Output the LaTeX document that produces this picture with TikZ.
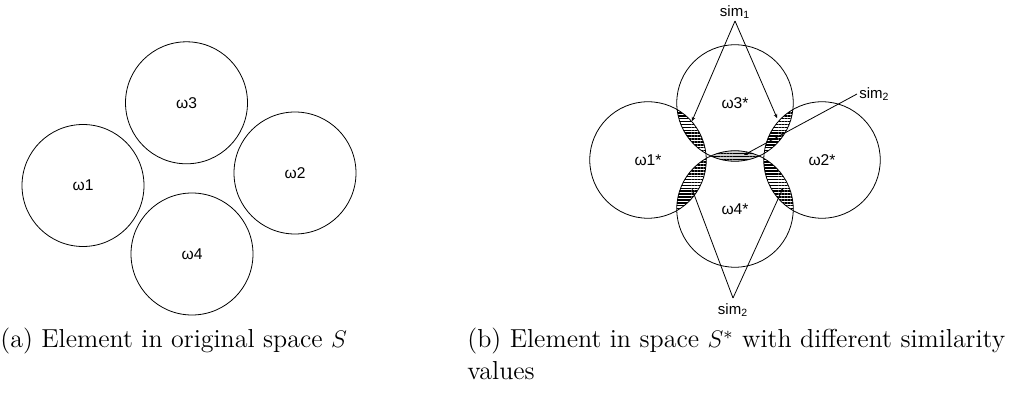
\documentclass[tikz,border=0pt]{standalone}
\usepackage{fontspec}
\newfontfamily\labfont{Liberation Sans}
\usetikzlibrary{patterns.meta,arrows.meta}
\begin{document}
\begin{tikzpicture}[x=0.5pt,y=-0.5pt,
  elem/.style={circle,draw,line width=0.4pt,minimum size=61pt,inner sep=0pt,font=\labfont\fontsize{7.8}{9}\selectfont},
  elems/.style={circle,draw,line width=0.4pt,minimum size=58.25pt,inner sep=0pt,font=\labfont\fontsize{7.8}{9}\selectfont},
  hatch/.style={pattern={Lines[angle=0,distance=1.45pt,line width=0.75pt]}},
  simlab/.style={font=\labfont\fontsize{7.5}{9}\selectfont,inner sep=1pt},
  simline/.style={line width=0.4pt,-{Stealth[length=2pt,width=1.8pt]}},
  captxt/.style={font=\fontsize{13}{15.6}\selectfont,inner sep=0pt,align=left}
]
\useasboundingbox (0,0) rectangle (1021,400);
% left panel
\node[elem] (w1) at (83,185.5) {ω1};
\node[elem] (w2) at (295,173) {ω2};
\node[elem] (w3) at (186.5,102.8) {ω3};
\node[elem] (w4) at (192,254) {ω4};
% right panel centres
\coordinate (c1) at (648,160);
\coordinate (c2) at (822,160);
\coordinate (c3) at (735,103);
\coordinate (c4) at (735,209);
\def\rr{29.125pt}
% hatched overlaps
\begin{scope}\clip (c1) circle[radius=\rr]; \fill[hatch] (c3) circle[radius=\rr]; \end{scope}
\begin{scope}\clip (c2) circle[radius=\rr]; \fill[hatch] (c3) circle[radius=\rr]; \end{scope}
\begin{scope}\clip (c1) circle[radius=\rr]; \fill[hatch] (c4) circle[radius=\rr]; \end{scope}
\begin{scope}\clip (c2) circle[radius=\rr]; \fill[hatch] (c4) circle[radius=\rr]; \end{scope}
\begin{scope}\clip (c3) circle[radius=\rr]; \fill[gray!40] (c4) circle[radius=\rr]; \fill[hatch] (c4) circle[radius=\rr]; \end{scope}
\node[elems] (s1) at (c1) {ω1*};
\node[elems] (s2) at (c2) {ω2*};
\node[elems] (s3) at (c3) {ω3*};
\node[elems] (s4) at (c4) {ω4*};
% similarity labels
\node[simlab,anchor=south] (simA) at (735,21) {sim\textsubscript{1}};
\node[simlab,anchor=west] (simB) at (857,94) {sim\textsubscript{2}};
\node[simlab,anchor=north,inner sep=2.5pt] (simC) at (733,298) {sim\textsubscript{2}};
\coordinate (pA1) at (692,121);
\coordinate (pA2) at (777,118);
\coordinate (pB) at (744,155);
\coordinate (pC1) at (692,189);
\coordinate (pC2) at (783,188);
\draw[simline] (simA.south) -- (pA1);
\draw[simline] (simA.south) -- (pA2);
\draw[simline] (simB.west) -- (pB);
\draw[simline] (simC.north) -- (pC1);
\draw[simline] (simC.north) -- (pC2);
% captions
\node[captxt,anchor=base west] (capa) at (0,347) {(a) Element in original space $S$};
\node[captxt,anchor=north west] (capb) at (467,328) {(b) Element in space $S^{*}$ with different similarity\\values};
\end{tikzpicture}
\end{document}
